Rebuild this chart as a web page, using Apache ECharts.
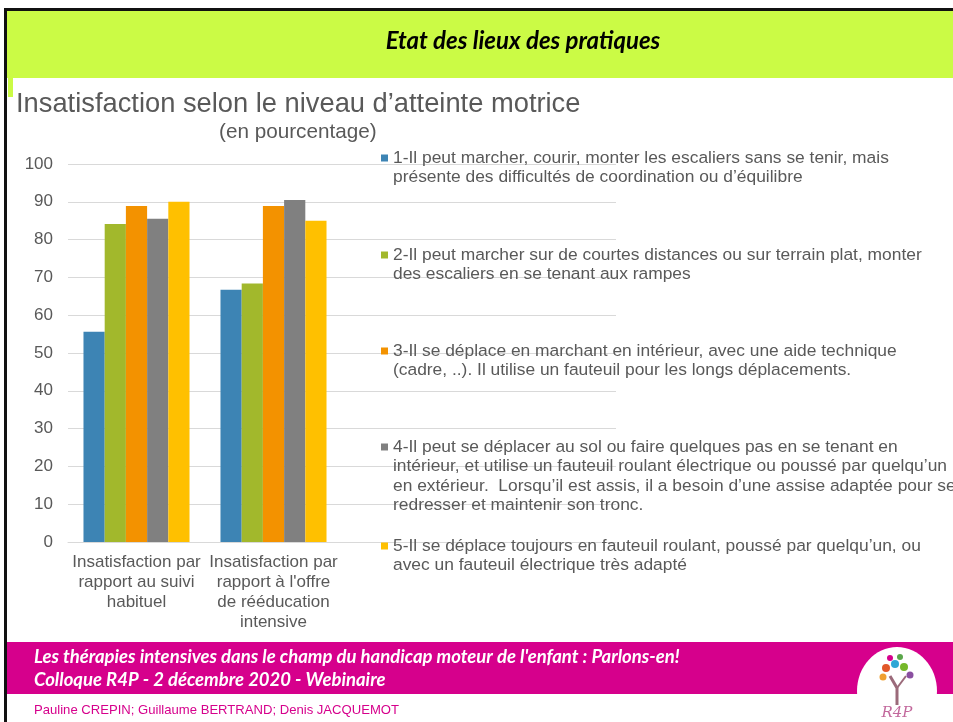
<!DOCTYPE html>
<html>
<head>
<meta charset="utf-8">
<style>
  html, body { margin: 0; padding: 0; background: #fff; }
  #main { width: 953px; height: 722px; }
</style>
</head>
<body>
<div id="main"></div>
<script src="https://cdn.jsdelivr.net/npm/echarts@6/dist/echarts.min.js"></script>
<script>
var categories = [
    'Insatisfaction par\nrapport au suivi\nhabituel',
    'Insatisfaction par\nrapport à l\'offre\nde rééducation\nintensive'
];
// legend labels, one line per entry
var levelLines = [
    ['1-Il peut marcher, courir, monter les escaliers sans se tenir, mais', 'présente des difficultés de coordination ou d’équilibre'],
    ['2-Il peut marcher sur de courtes distances ou sur terrain plat, monter', 'des escaliers en se tenant aux rampes'],
    ['3-Il se déplace en marchant en intérieur, avec une aide technique', '(cadre, ..). Il utilise un fauteuil pour les longs déplacements.'],
    ['4-Il peut se déplacer au sol ou faire quelques pas en se tenant en', 'intérieur, et utilise un fauteuil roulant électrique ou poussé par quelqu’un', 'en extérieur.  Lorsqu’il est assis, il a besoin d’une assise adaptée pour se', 'redresser et maintenir son tronc.'],
    ['5-Il se déplace toujours en fauteuil roulant, poussé par quelqu’un, ou', 'avec un fauteuil électrique très adapté']
];
var niveau1 = [55.6, 66.7];
var niveau2 = [84.1, 68.4];
var niveau3 = [88.9, 88.9];
var niveau4 = [85.5, 90.5];
var niveau5 = [90.0, 85.0];
var yMin = 0, yMax = 100, yStep = 10;

var colors = ['#3d84b4', '#a2b82c', '#f39200', '#808080', '#ffc000'];
var values = [niveau1, niveau2, niveau3, niveau4, niveau5];
var names = levelLines.map(function (l) { return l.join(' '); });
var legendTops = [149.5, 246.5, 342.5, 438.5, 537.5];
var FONT = '"Liberation Sans", Arial, sans-serif';
var GREY = '#595959';

var rich = {
    t: { fontSize: 17.4, color: GREY, fontFamily: FONT, lineHeight: 19.5 },
    g: { width: 5, height: 7 },
    sp: { width: 12, height: 7 }
};
colors.forEach(function (c, i) {
    rich['m' + i] = { width: 7, height: 7, backgroundColor: c };
});

var legends = names.map(function (n, i) {
    return {
        data: [n],
        left: 376,
        top: legendTops[i],
        icon: 'none',
        itemWidth: 0,
        itemHeight: 0,
        selectedMode: false,
        padding: 0,
        formatter: function (name) {
            var idx = names.indexOf(name);
            return levelLines[idx].map(function (line, k) {
                return (k === 0 ? '{m' + idx + '|}{g|}' : '{sp|}') + '{t|' + line + '}';
            }).join('\n');
        },
        textStyle: { rich: rich }
    };
});

var myChart = echarts.init(document.getElementById('main'));
var option = {
    backgroundColor: '#fff',
    animation: false,
    title: [
        {
            text: 'Insatisfaction selon le niveau d’atteinte motrice',
            left: 16, top: 91, padding: 0,
            textStyle: { fontSize: 27.3, fontWeight: 'normal', color: GREY, fontFamily: FONT }
        },
        {
            text: '(en pourcentage)',
            left: 219, top: 122, padding: 0,
            textStyle: { fontSize: 20.7, fontWeight: 'normal', color: GREY, fontFamily: FONT }
        }
    ],
    legend: legends,
    grid: { left: 68, right: 337, top: 164, bottom: 180, containLabel: false },
    xAxis: {
        type: 'category',
        data: categories,
        max: 3,
        axisTick: { show: false },
        axisLine: { lineStyle: { color: '#d9d9d9', width: 1 } },
        axisLabel: {
            interval: 0,
            margin: 10,
            fontSize: 17,
            lineHeight: 20,
            color: GREY,
            fontFamily: FONT,
            formatter: function (v) { return v && v !== 'undefined' ? v : ''; }
        }
    },
    yAxis: {
        type: 'value',
        min: yMin, max: yMax, interval: yStep,
        axisLine: { show: false },
        axisTick: { show: false },
        splitLine: { lineStyle: { color: '#d9d9d9', width: 1 } },
        axisLabel: { margin: 15, fontSize: 17, color: GREY, fontFamily: FONT }
    },
    series: values.map(function (v, i) {
        return {
            name: names[i],
            type: 'bar',
            data: v,
            barGap: '0%',
            barCategoryGap: '22.6%',
            itemStyle: { color: colors[i] }
        };
    }),
    graphic: [
        // slide frame and header band
        { type: 'rect', shape: { x: 4, y: 8, width: 949, height: 3 }, style: { fill: '#111' } },
        { type: 'rect', shape: { x: 4, y: 8, width: 3, height: 714 }, style: { fill: '#111' } },
        { type: 'rect', shape: { x: 7, y: 11, width: 946, height: 67 }, style: { fill: '#cbfb45' } },
        { type: 'rect', shape: { x: 8, y: 78, width: 5, height: 19 }, style: { fill: '#cbfb45' } },
        {
            type: 'text', x: 523, y: 41,
            style: { text: 'Etat des lieux des pratiques', fontSize: 24, fontWeight: 'bold', fontStyle: 'italic', fontFamily: 'Lato', fill: '#000', align: 'center', verticalAlign: 'middle' }
        },
        // footer band
        { type: 'rect', shape: { x: 7, y: 642, width: 946, height: 52 }, style: { fill: '#d6008c' } },
        {
            type: 'text', x: 34, y: 657,
            style: { text: 'Les thérapies intensives dans le champ du handicap moteur de l\'enfant : Parlons-en!', fontSize: 18.5, fontWeight: 'bold', fontStyle: 'italic', fontFamily: 'Lato', fill: '#fff', verticalAlign: 'middle' }
        },
        {
            type: 'text', x: 34, y: 680,
            style: { text: 'Colloque R4P - 2 décembre 2020 - Webinaire', fontSize: 18.5, fontWeight: 'bold', fontStyle: 'italic', fontFamily: 'Lato', fill: '#fff', verticalAlign: 'middle' }
        },
        {
            type: 'text', x: 34, y: 710,
            style: { text: 'Pauline CREPIN; Guillaume BERTRAND; Denis JACQUEMOT', fontSize: 13.1, fontFamily: FONT, fill: '#d6008c', verticalAlign: 'middle' }
        },
        // logo
        { type: 'ellipse', shape: { cx: 897, cy: 691, rx: 40, ry: 44 }, style: { fill: '#fff' } },
        { type: 'polyline', shape: { points: [[897, 705], [897, 688], [890, 676]] }, style: { stroke: '#9b6a7a', lineWidth: 3, fill: null } },
        { type: 'polyline', shape: { points: [[897, 688], [906, 676]] }, style: { stroke: '#9b6a7a', lineWidth: 2, fill: null } },
        { type: 'circle', shape: { cx: 886, cy: 668, r: 4 }, style: { fill: '#e2582a' } },
        { type: 'circle', shape: { cx: 895, cy: 664, r: 4 }, style: { fill: '#2fa7d6' } },
        { type: 'circle', shape: { cx: 904, cy: 667, r: 4 }, style: { fill: '#76b82a' } },
        { type: 'circle', shape: { cx: 910, cy: 675, r: 3.5 }, style: { fill: '#8a4fa0' } },
        { type: 'circle', shape: { cx: 883, cy: 677, r: 3.5 }, style: { fill: '#f0a030' } },
        { type: 'circle', shape: { cx: 900, cy: 657, r: 3 }, style: { fill: '#5aa64a' } },
        { type: 'circle', shape: { cx: 890, cy: 658, r: 3 }, style: { fill: '#d6008c' } },
        {
            type: 'text', x: 897, y: 713,
            style: { text: 'R4P', fontSize: 15, fontStyle: 'italic', fontFamily: 'DejaVu Serif', fill: '#c2689c', align: 'center', verticalAlign: 'middle' }
        }
    ]
};
myChart.setOption(option);
</script>
</body>
</html>
